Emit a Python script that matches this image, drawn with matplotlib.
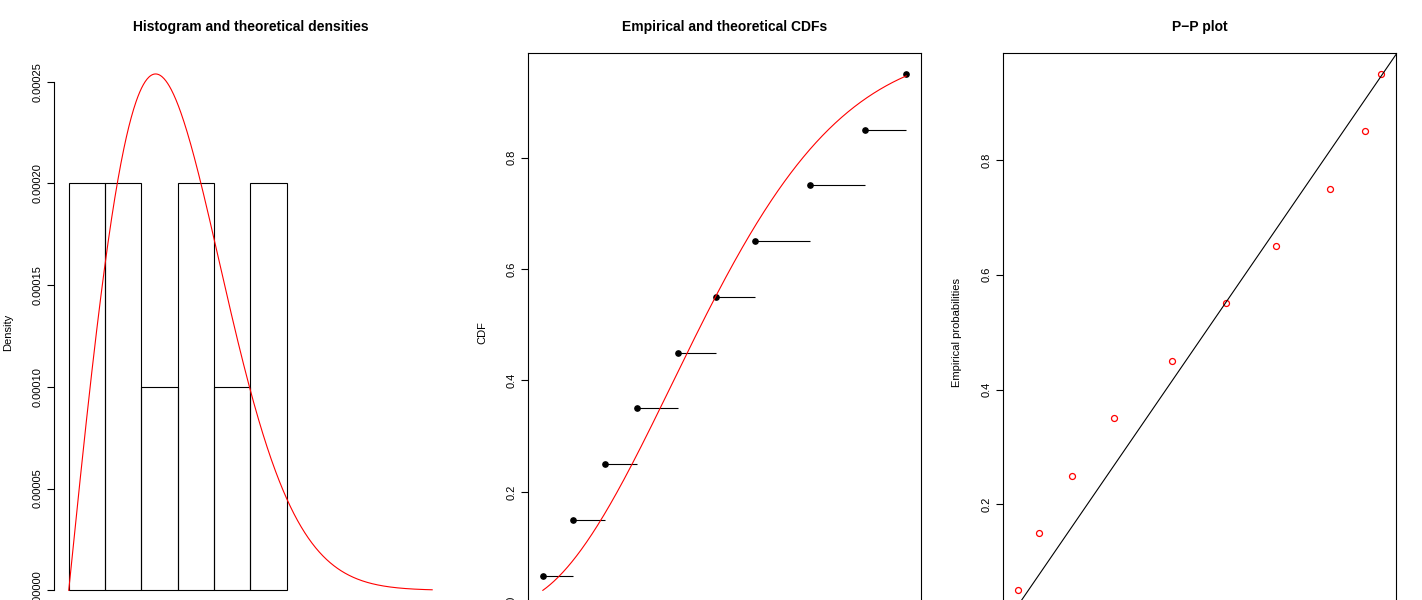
import numpy as np
import matplotlib.pyplot as plt

plt.rcParams['font.family'] = ['Liberation Sans', 'DejaVu Sans']

# Sorted sample and its plotting positions.
values = [520, 961, 1415, 1883, 2478, 3034, 3600, 4392, 5185, 5784]
emp_probs = [0.05, 0.15, 0.25, 0.35, 0.45, 0.55, 0.65, 0.75, 0.85, 0.95]
breaks = [0, 1000, 2000, 3000, 4000, 5000, 6000]

# Fitted Weibull distribution.
shape = 2.0
scale = 3380
dens_range = [0, 10000]

titles = ["Histogram and theoretical densities",
          "Empirical and theoretical CDFs",
          "P\u2212P plot"]
ylabels = ["Density", "CDF", "Empirical probabilities"]
dens_ticks = [0, 0.00005, 0.0001, 0.00015, 0.0002, 0.00025]
cdf_ticks = [0, 0.2, 0.4, 0.6, 0.8]
pp_ticks = [0.2, 0.4, 0.6, 0.8]


def wpdf(x):
    z = np.asarray(x, float) / scale
    return shape / scale * z ** (shape - 1) * np.exp(-z ** shape)


def wcdf(x):
    z = np.asarray(x, float) / scale
    return 1 - np.exp(-z ** shape)


def padded(lo, hi):
    r = hi - lo
    return lo - 0.04 * r, hi + 0.04 * r


fig = plt.figure(figsize=(14.22, 6), dpi=100)
lefts = [54.2, 528.3, 1003.3]
axes = [fig.add_axes([l / 1422, -11 / 600, 392.5 / 1422, 557.7 / 600]) for l in lefts]
ax1, ax2, ax3 = axes

# Histogram with density curve.
counts, _, _ = ax1.hist(values, bins=breaks, density=True, fill=False,
                        edgecolor='black', linewidth=0.8)
xs = np.linspace(dens_range[0], dens_range[1], 600)
dens = wpdf(xs)
ax1.plot(xs, dens, color='red', linewidth=0.8)
ax1.set_xlim(padded(*dens_range))
ax1.set_ylim(padded(0, max(dens.max(), counts.max())))
for side in ['top', 'right', 'bottom']:
    ax1.spines[side].set_visible(False)
ax1.spines['left'].set_bounds(dens_ticks[0], dens_ticks[-1])
ax1.set_yticks(dens_ticks)
ax1.set_yticklabels([f"{v:.5f}" for v in dens_ticks])

# Empirical and theoretical CDFs.
ax2.hlines(emp_probs[:-1], values[:-1], values[1:], color='black', linewidth=0.8)
ax2.plot(values, emp_probs, 'o', color='black', markersize=3.8)
xs2 = np.linspace(values[0], values[-1], 400)
ax2.plot(xs2, wcdf(xs2), color='red', linewidth=0.8)
ax2.set_xlim(padded(values[0], values[-1]))
lim2 = emp_probs + list(wcdf([values[0], values[-1]]))
ax2.set_ylim(padded(min(lim2), max(lim2)))
ax2.set_yticks(cdf_ticks)
ax2.set_yticklabels([f"{v:.1f}" for v in cdf_ticks])

# P-P plot.
theo = wcdf(values)
ax3.plot(theo, emp_probs, 'o', markerfacecolor='none', markeredgecolor='red',
         markersize=4.3, markeredgewidth=0.9)
ax3.axline((0, 0), slope=1, color='black', linewidth=0.8)
ax3.set_xlim(padded(theo.min(), theo.max()))
ax3.set_ylim(padded(min(emp_probs), max(emp_probs)))
ax3.set_yticks(pp_ticks)
ax3.set_yticklabels([f"{v:.1f}" for v in pp_ticks])

for ax, title, lab in zip(axes, titles, ylabels):
    ax.set_xticks([])
    for sp in ax.spines.values():
        sp.set_linewidth(0.8)
    ax.tick_params(axis='y', direction='out', length=5, width=0.8,
                   labelsize=8, pad=3.5, labelrotation=90)
    for t in ax.get_yticklabels():
        t.set_va('center')
    ax.set_ylabel(lab, fontsize=8, va='center')
    ax.yaxis.set_label_coords(-46 / 392.5, 0.5)
    ax.text(0.5, 1 + 26.6 / 557.7, title, transform=ax.transAxes,
            ha='center', va='center', fontsize=10, fontweight='bold')

fig.savefig('out.png', dpi=100)
